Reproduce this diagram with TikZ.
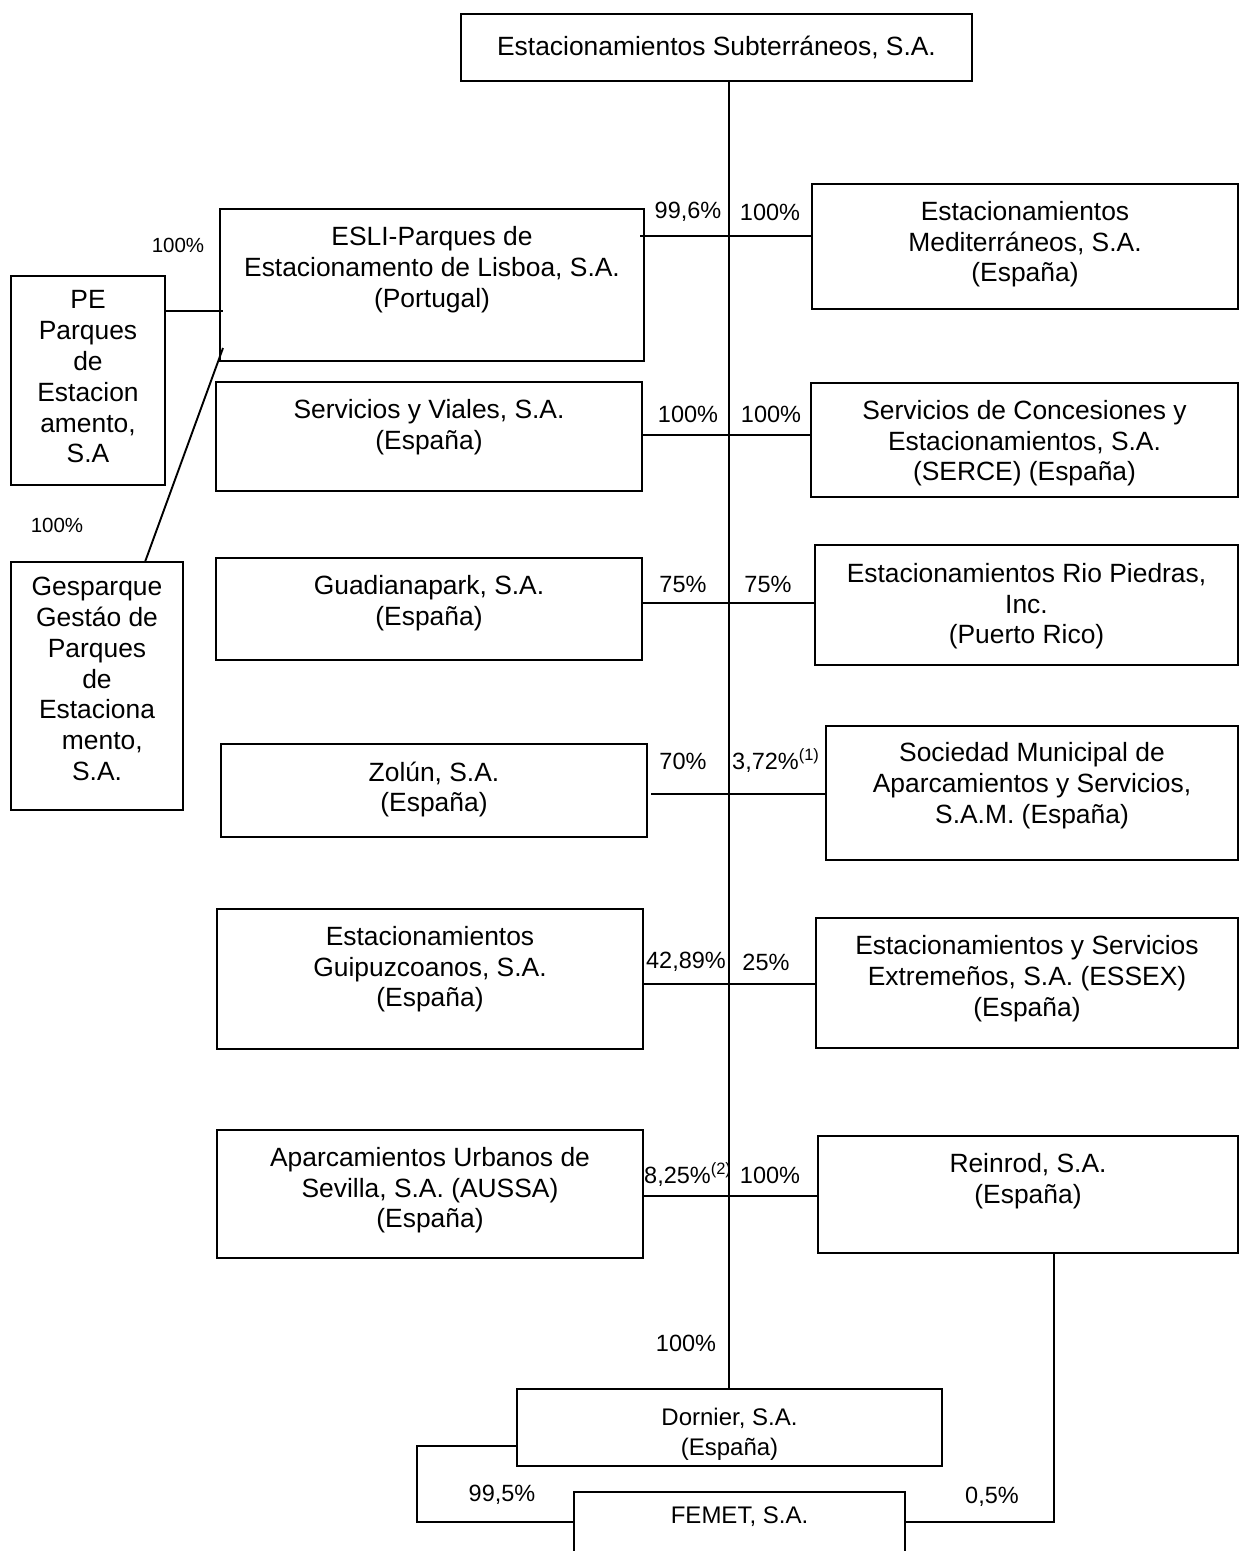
\documentclass[tikz,border=0pt]{standalone}
\usepackage{fontspec}
\setmainfont{Liberation Sans}
\usetikzlibrary{positioning}
\newcommand\obox[5]{\node[box, minimum width={#4-#2}, minimum height={#5-#3}] (#1) at ({(#2+#4)/2},{(#3+#5)/2}) {};}
\begin{document}
\begin{tikzpicture}[x=1pt,y=-1pt,
  box/.style={draw, line width=1.9pt, inner sep=0pt, outer sep=0pt},
  txt/.style={align=center, inner sep=0pt, font=\fontsize{26.4}{30.8}\selectfont},
  stxt/.style={align=center, inner sep=0pt, font=\fontsize{24}{30}\selectfont},
  pct/.style={inner sep=0pt, font=\fontsize{23.5}{27}\selectfont},
  spct/.style={inner sep=0pt, font=\fontsize{20.5}{24}\selectfont},
  conn/.style={draw, line width=1.9pt}]
\useasboundingbox (0,0) rectangle (1240,1551);

% boxes
\obox{title}{461}{14}{972}{81}
\obox{esli}{220}{209}{644}{361}
\obox{svi}{216}{382}{642}{491}
\obox{gua}{216}{558}{642}{660}
\obox{zol}{221}{744}{647}{837}
\obox{gui}{217}{909}{643}{1049}
\obox{aus}{217}{1130}{643}{1258}
\obox{med}{812}{184}{1238}{309}
\obox{ser}{811}{383}{1238}{497}
\obox{rio}{815}{545}{1238}{665}
\obox{soc}{826}{726}{1238}{860}
\obox{ess}{816}{918}{1238}{1048}
\obox{rei}{818}{1136}{1238}{1253}
\obox{pe}{11}{276}{165}{485}
\obox{ges}{11}{562}{183}{810}
\obox{dor}{517}{1389}{942}{1466}
\obox{fem}{574}{1492}{905}{1570}

% texts
\node[txt] (title-t) at (title) {Estacionamientos Subterráneos, S.A.};
\node[txt, below=17.5pt of esli.north] (esli-t) {ESLI-Parques de\\Estacionamento de Lisboa, S.A.\\(Portugal)};
\node[txt, below=17.5pt of svi.north] (svi-t) {Servicios y Viales, S.A.\\(España)};
\node[txt, below=17.5pt of gua.north] (gua-t) {Guadianapark, S.A.\\(España)};
\node[txt, below=17.5pt of zol.north] (zol-t) {Zolún, S.A.\\(España)};
\node[txt, below=17pt of gui.north] (gui-t) {Estacionamientos\\Guipuzcoanos, S.A.\\(España)};
\node[txt, below=17pt of aus.north] (aus-t) {Aparcamientos Urbanos de\\Sevilla, S.A. (AUSSA)\\(España)};
\node[txt, below=17pt of med.north] (med-t) {Estacionamientos\\Mediterráneos, S.A.\\(España)};
\node[txt, below=17pt of ser.north] (ser-t) {Servicios de Concesiones y\\Estacionamientos, S.A.\\(SERCE) (España)};
\node[txt, below=18pt of rio.north] (rio-t) {Estacionamientos Rio Piedras,\\Inc.\\(Puerto Rico)};
\node[txt, below=16.5pt of soc.north] (soc-t) {Sociedad Municipal de\\Aparcamientos y Servicios,\\S.A.M. (España)};
\node[txt, below=17.5pt of ess.north] (ess-t) {Estacionamientos y Servicios\\Extremeños, S.A. (ESSEX)\\(España)};
\node[txt, below=17.5pt of rei.north] (rei-t) {Reinrod, S.A.\\(España)};
\node[txt, below=14.5pt of pe.north] (pe-t) {PE\\Parques\\de\\Estacion\\amento,\\S.A};
\node[txt, below=15pt of ges.north] (ges-t) {Gesparque\\Gestáo de\\Parques\\de\\Estaciona\hspace*{0.5em}\\\hspace*{0.4em}mento,\\S.A.};
\node[stxt, below=19pt of dor.north] (dor-t) {Dornier, S.A.\\(España)};
\node[stxt] (fem-t) at (fem.north |- 0,1517) {FEMET, S.A.};

% trunk
\coordinate (tk) at (729,0);
\draw[conn] (title.south -| tk) -- (dor.north -| tk);

% row connectors
\coordinate (r1) at (0,236);
\coordinate (r2) at (0,435);
\coordinate (r3) at (0,603);
\coordinate (r4) at (0,794);
\coordinate (r5) at (0,984);
\coordinate (r6) at (0,1196);
\draw[conn] ([xshift=-4pt]esli.east |- r1) -- (med.west |- r1);
\draw[conn] (svi.east |- r2) -- (ser.west |- r2);
\draw[conn] (gua.east |- r3) -- (rio.west |- r3);
\draw[conn] ([xshift=4pt]zol.east |- r4) -- (soc.west |- r4);
\draw[conn] (gui.east |- r5) -- (ess.west |- r5);
\draw[conn] (aus.east |- r6) -- (rei.west |- r6);

% left connectors
\coordinate (l1) at (0,311);
\coordinate (l2) at (0,348);
\draw[conn] (pe.east |- l1) -- ([xshift=3pt]esli.west |- l1);
\draw[conn] ([xshift=3pt]esli.west |- l2) -- ([xshift=48pt]ges.north);

% bottom connectors
\coordinate (dl) at (0,1446);
\coordinate (bl) at (417,1522);
\coordinate (br) at (1054,1522);
\draw[conn] (dor.west |- dl) -| (bl) -- (fem.west |- bl);
\draw[conn] (rei.south -| br) -- (br) -- (fem.east |- br);

% percentages
\node[pct] (p1a) at (688,212) {99,6\%};
\node[pct] (p1b) at (770,212) {100\%};
\node[pct] (p2a) at (688,414) {100\%};
\node[pct] (p2b) at (771,414) {100\%};
\node[pct] (p3a) at (683,584) {75\%};
\node[pct] (p3b) at (768,584) {75\%};
\node[pct] (p4a) at (683,761) {70\%};
\node[pct, anchor=west] (p4b) at (732,761) {3,72\%\textsuperscript{(1)}};
\node[pct] (p5a) at (686,962) {42,89\%};
\node[pct] (p5b) at (766,962) {25\%};
\node[pct, anchor=west] (p6a) at (644,1175) {8,25\%\textsuperscript{(2)}};
\node[pct] (p6b) at (770,1175) {100\%};
\node[pct] (p7) at (686,1343) {100\%};
\node[pct] (p8) at (502,1495) {99,5\%};
\node[pct] (p9) at (992,1497) {0,5\%};
\node[spct] (s1) at (178,245) {100\%};
\node[spct] (s2) at (57,525) {100\%};
\end{tikzpicture}
\end{document}
